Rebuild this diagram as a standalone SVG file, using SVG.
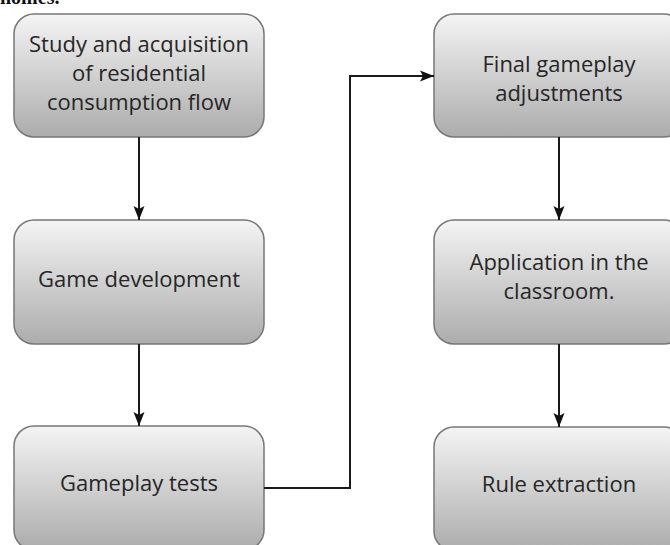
<svg xmlns="http://www.w3.org/2000/svg" width="670" height="545" viewBox="0 0 670 545">
<defs>
<linearGradient id="g" x1="0" y1="0" x2="0" y2="1">
<stop offset="0" stop-color="#f4f4f4"/>
<stop offset="1" stop-color="#acacac"/>
</linearGradient>
<marker id="ah" markerWidth="14" markerHeight="14" viewBox="0 0 14 14" refX="14" refY="7" orient="auto" markerUnits="userSpaceOnUse">
<path d="M0,1.5 L14,7 L0,12.5 L3,7 Z" fill="#111"/>
</marker>
</defs>
<style>
.box{fill:url(#g);stroke:#777;stroke-width:1.5}
.t{font-family:"Open Sans","Noto Sans",sans-serif;font-size:22px;fill:#262626;text-anchor:middle}
.c{fill:none;stroke:#1a1a1a;stroke-width:2;marker-end:url(#ah)}
</style>
<rect width="670" height="545" fill="#fff"/>
<text x="0" y="4" font-family="Liberation Serif,serif" font-weight="bold" font-size="20" fill="#111">homes.</text>
<g id="n1"><rect class="box" x="14" y="14" width="250" height="123" rx="20"/>
<text class="t" x="139" y="52">Study and acquisition</text>
<text class="t" x="139" y="81">of residential</text>
<text class="t" x="139" y="110">consumption flow</text></g>
<g id="n2"><rect class="box" x="14" y="220" width="250" height="124" rx="20"/>
<text class="t" x="139" y="287">Game development</text></g>
<g id="n3"><rect class="box" x="14" y="426" width="250" height="124" rx="20"/>
<text class="t" x="139" y="491">Gameplay tests</text></g>
<g id="n4"><rect class="box" x="434" y="14" width="250" height="123" rx="20"/>
<text class="t" x="559" y="72">Final gameplay</text>
<text class="t" x="559" y="101">adjustments</text></g>
<g id="n5"><rect class="box" x="434" y="220" width="250" height="124" rx="20"/>
<text class="t" x="559" y="270">Application in the</text>
<text class="t" x="559" y="299">classroom.</text></g>
<g id="n6"><rect class="box" x="434" y="427" width="250" height="124" rx="20"/>
<text class="t" x="559" y="492">Rule extraction</text></g>
<g id="connectors">
<path class="c" d="M139,137 V220"/>
<path class="c" d="M139,344 V426"/>
<path class="c" d="M264,488 H350 V76 H434"/>
<path class="c" d="M559,137 V220"/>
<path class="c" d="M559,344 V427"/>
</g>
</svg>
